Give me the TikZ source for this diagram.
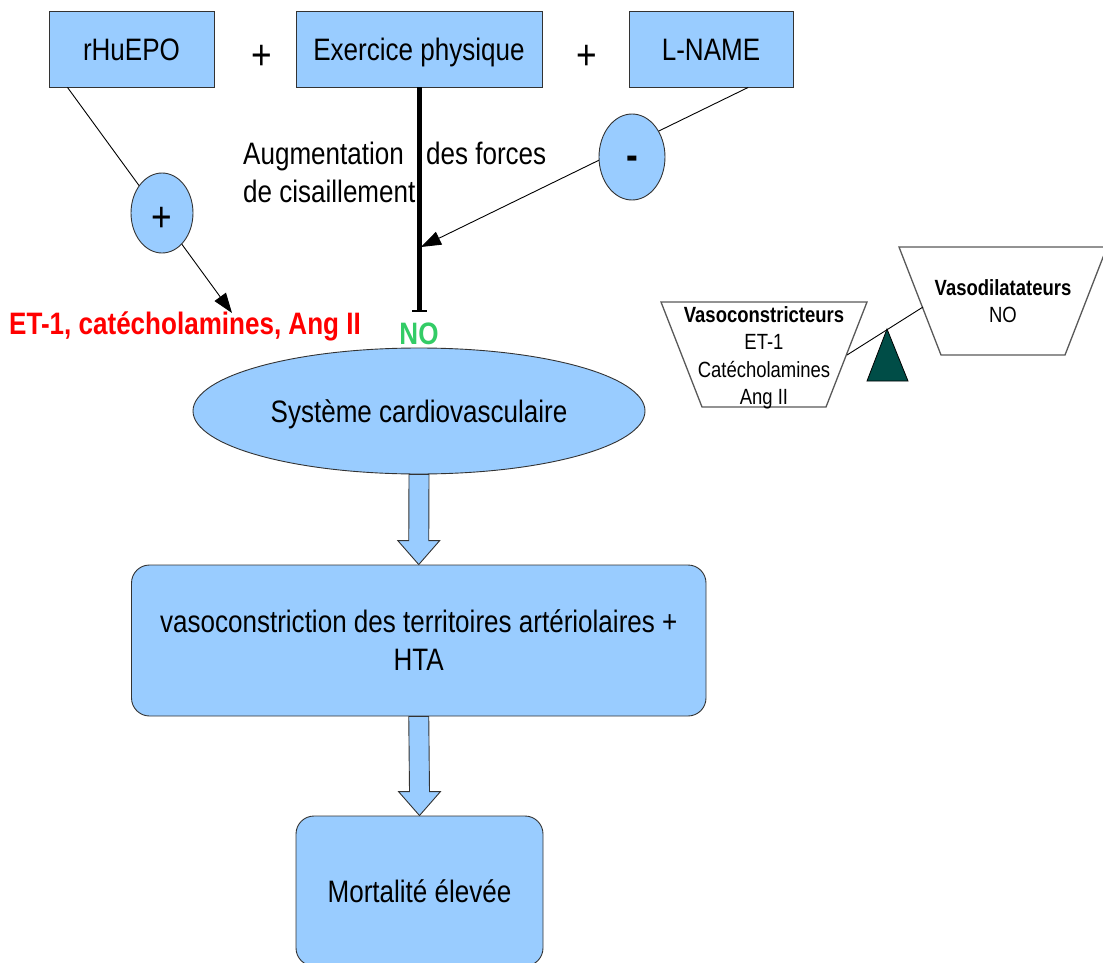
\documentclass[tikz,border=0pt]{standalone}
\usepackage{fontspec}
\setmainfont{Liberation Sans}[FakeStretch=0.84]
\usetikzlibrary{shapes.geometric,arrows.meta,calc}
\definecolor{boxblue}{RGB}{153,204,255}
\definecolor{nogreen}{RGB}{51,204,102}
\definecolor{pivot}{RGB}{0,77,71}
\begin{document}
\begin{tikzpicture}[x=1pt, y=-1pt,
  txt/.style={font=\fontsize{31}{38}\selectfont},
  small/.style={font=\fontsize{22}{27.5}\selectfont, align=center, inner sep=0pt},
  agent/.style={txt, draw=black!80, fill=boxblue, line width=0.9pt, inner sep=0pt, minimum height=76pt,
    text height=22.2pt, text depth=0pt},
  sign/.style={ellipse, draw=black!80, fill=boxblue, line width=0.9pt, inner sep=0pt, font=\fontsize{42}{42}\selectfont,
    text depth=0pt},
  stage/.style={txt, draw=black!80, fill=boxblue, line width=0.9pt, rounded corners=18pt, inner sep=0pt, align=center},
  bigarrow/.style={draw=black!80, fill=boxblue, line width=0.9pt},
  thin/.style={line width=0.9pt, -{Triangle[length=20pt,width=14pt]}},
  balance/.style={draw=black!65, fill=white, line width=1.3pt}]

\useasboundingbox (0,0) rectangle (1103,963);

% facteurs
\node[agent, minimum width=165pt] (epo) at (131.5,49) {rHuEPO};
\node[agent, minimum width=246pt] (exo) at (419,49) {Exercice physique};
\node[agent, minimum width=164pt] (lname) at (711,49) {L-NAME};
\node[font=\fontsize{42}{42}\selectfont] (plusa) at (262,57) {+};
\node[font=\fontsize{42}{42}\selectfont] (plusb) at (587,57) {+};

% effets
\coordinate (etip) at (232,313);
\coordinate (ntip) at (421,247);
\coordinate (nobar) at (419,312);
\draw[thin] (epo.211) -- (etip);
\draw[thin] (lname.-46) -- (ntip);
\node[sign, minimum width=62pt, minimum height=80pt, text height=36pt] (eplus) at (162,213) {+};
\node[sign, minimum width=66pt, minimum height=86pt, text height=26pt] (eminus) at (632,157) {\bfseries -};
\draw[line width=5pt, -{Bar[width=15pt, line width=2.5pt]}] (exo.south) -- (nobar);
\node[txt, align=left, anchor=north west, inner sep=0pt] (shear) at (243,142)
  {Augmentation\hspace{15pt} des forces\\de cisaillement};
\node[txt, font=\fontsize{31}{38}\selectfont\bfseries, text=red] (etcat) at (185,326)
  {ET-1, catécholamines, Ang II};
\node[txt, font=\fontsize{31}{38}\selectfont\bfseries, text=nogreen] (no) at (419,334) {NO};

% cascade
\node[stage, ellipse, minimum width=452pt, minimum height=126pt, text height=22.2pt, text depth=0pt]
  (syst) at (419,411) {Système cardiovasculaire};
\node[stage, minimum width=574.5pt, minimum height=151pt] (vaso) at (418.75,640.5)
  {vasoconstriction des territoires artériolaires +\\HTA};
\node[stage, minimum width=247pt, minimum height=150pt] (mort) at (419.5,891) {Mortalité élevée};
\foreach \a/\b in {syst/vaso, vaso/mort}
  \draw[bigarrow] (\a.south) ++(-10,0) -- ($(\b.north)+(-10,-24)$) -- ++(-11,0) -- (\b.north)
    -- ++(21,-24) -- ++(-11,0) -- ($(\a.south)+(10,0)$) -- cycle;

% balance
\draw[balance] (661,302) -- (867,302) -- (826,407) -- (702,407) -- cycle;
\draw[balance] (899,247) -- (1107,247) -- (1065,355) -- (941,355) -- cycle;
\coordinate (bl) at (847,355);
\coordinate (br) at (923,307);
\draw[line width=0.9pt] (bl) -- (br);
\draw[fill=pivot, draw=black, line width=0.8pt] (887,329) -- (908,381) -- (867,381) -- cycle;
\node[small] (vcons) at (764,358) {\textbf{Vasoconstricteurs}\\ET-1\\Catécholamines\\Ang II};
\node[small] (vdil) at (1003,301) {\textbf{Vasodilatateurs}\\NO};
\end{tikzpicture}
\end{document}
